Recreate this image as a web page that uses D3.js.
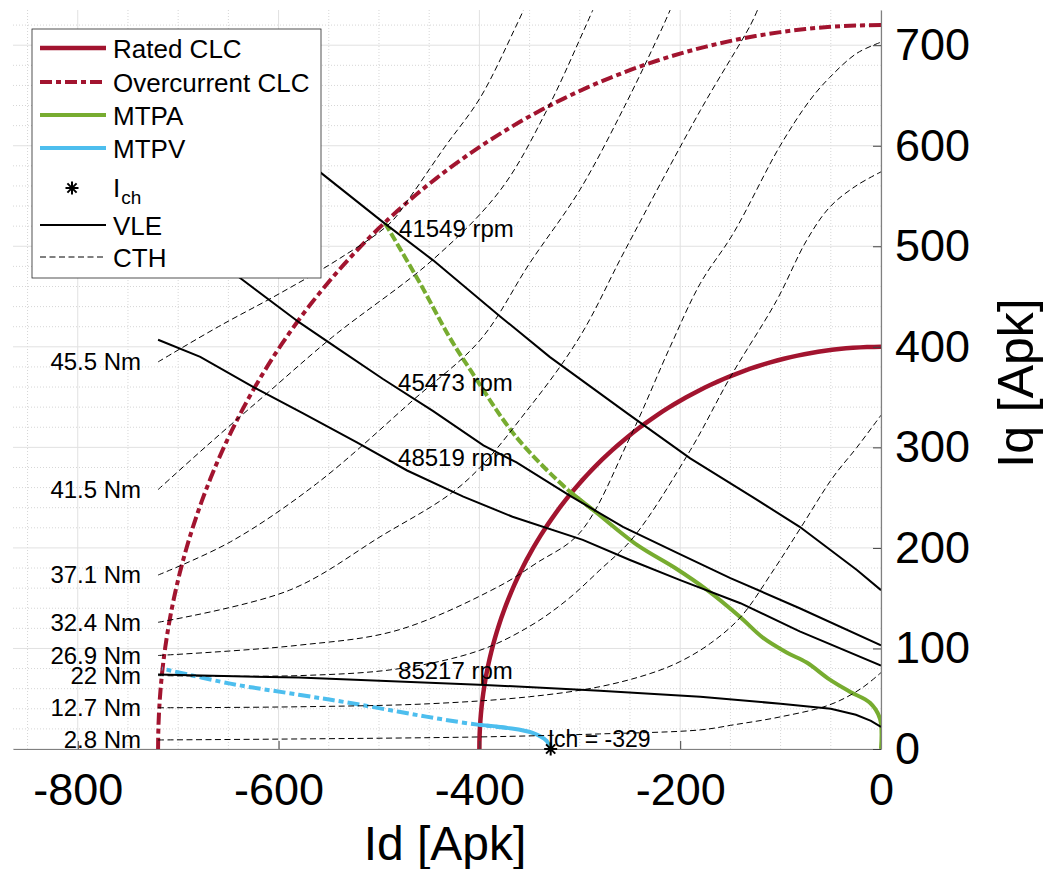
<!DOCTYPE html>
<html>
<head>
<meta charset="utf-8">
<script src="https://cdn.jsdelivr.net/npm/d3@7"></script>
<style>
body { margin: 0; background: #fff; }
text { font-family: "Liberation Sans", Arial, Helvetica, sans-serif; fill: #000; }
</style>
</head>
<body>
<svg id="chart" width="1044" height="869"></svg>
<script>
// current limit circles (radius, Apk)
var ratedRadius = 400;
var overRadius = 720;

// constant torque lines (Id, Iq)
var torqueLabels = ["45.5 Nm", "41.5 Nm", "37.1 Nm", "32.4 Nm", "26.9 Nm", "22 Nm", "12.7 Nm", "2.8 Nm"];
var cth455 = [[-720,385],[-660,420],[-599,453],[-539,488],[-489,523],[-469,549],[-435,598],[-399,648],[-363,720],[-356,735]];
var cth415 = [[-720,258],[-671,302],[-610,355],[-546,410],[-446,487],[-379,556],[-333,635],[-295,717],[-287,735]];
var cth371 = [[-720,173],[-648,206],[-562,264],[-466,347],[-399,407],[-350,483],[-300,556],[-255,640],[-218,717],[-210,735]];
var cth324 = [[-720,126],[-589,158],[-499,211],[-416,264],[-350,340],[-300,410],[-255,496],[-180,635],[-130,720],[-123,735]];
var cth269 = [[-720,93],[-582,103],[-482,118],[-382,161],[-343,185],[-300,215],[-250,310],[-210,400],[-180,463],[-147,513],[-101,599],[-71,645],[-51,668],[-24,692],[0,703]];
var cth22 = [[-720,73],[-579,73],[-479,80],[-400,98],[-350,122],[-313,148],[-280,178],[-247,210],[-190,297],[-150,370],[-104,446],[-74,506],[-51,539],[-25,560],[0,574]];
var cth127 = [[-720,41],[-580,42],[-450,45],[-350,52],[-280,62],[-230,75],[-200,87],[-170,105],[-140,131],[-107,178],[-80,220],[-48,270],[-24,300],[0,332]];
var cth28 = [[-720,9],[-580,10],[-400,12],[-280,15],[-180,19],[-147,24],[-100,32],[-51,44],[-20,60],[0,76]];

// voltage limit ellipses (Id, Iq)
var speedLabels = ["41549 rpm", "45473 rpm", "48519 rpm", "85217 rpm"];
var speedLabelAt = [[-480,518],[-481,364],[-481,290],[-481,78]];
var vle41549 = [[-720,701],[-640,638],[-559,574],[-496,524],[-446,486],[-379,430],[-330,390],[-253,334],[-190,289],[-127,250],[-81,221],[-24,178],[0,158]];
var vle45473 = [[-720,530],[-635,466],[-579,424],[-539,397],[-496,368],[-446,336],[-396,302],[-363,285],[-310,252],[-257,221],[-203,195],[-150,170],[-81,140],[0,103]];
var vle48519 = [[-720,407],[-678,390],[-625,360],[-576,334],[-522,305],[-472,277],[-416,251],[-367,231],[-297,208],[-250,188],[-200,168],[-140,145],[-81,117],[0,83]];
var vle85217 = [[-720,74],[-580,71],[-400,64],[-280,58],[-180,52],[-100,45],[-50,40],[-25,34],[-10,28],[0,22]];

// MTPA and MTPV trajectories
var mtpa = [[0,0],[-1,30],[-11,46],[-31,57],[-51,69],[-74,86],[-94,96],[-118,111],[-140,131],[-173,158],[-205,180],[-243,203],[-287,238],[-310,256],[-363,310],[-409,377],[-430,410],[-459,463],[-494,523]];
var mtpv = [[-329,0],[-333,8],[-347,16],[-372,21],[-400,24],[-440,30],[-480,37],[-530,46],[-580,54],[-648,65],[-716,80]];
var ich = [-329, 0];
var ichText = "Ich = -329";

var xTicks = [-800, -600, -400, -200, 0];
var yTicks = [0, 100, 200, 300, 400, 500, 600, 700];
var legendNames = ["Rated CLC", "Overcurrent CLC", "MTPA", "MTPV", "I", "VLE", "CTH"];

var red = '#A2142F', green = '#77AC30', blue = '#4DBEEE';

var svg = d3.select('#chart');
var pL = 13, pR = 881, pT = 10, pB = 749;

var x = d3.scaleLinear().domain([-864.5, 0]).range([pL, pR]);
var y = d3.scaleLinear().domain([0, 735]).range([pB, pT]);

// grid
var minorX = d3.range(-850, 1, 50).filter(function(d){ return d % 200 !== 0; });
var minorY = d3.range(20, 735, 20).filter(function(d){ return d % 100 !== 0; });

var grid = svg.append('g');
grid.selectAll('.mx').data(minorX).enter().append('line')
  .attr('x1', function(d){ return x(d); }).attr('x2', function(d){ return x(d); })
  .attr('y1', pT).attr('y2', pB)
  .attr('stroke', '#d6d6d6').attr('stroke-dasharray', '1,2');
grid.selectAll('.my').data(minorY).enter().append('line')
  .attr('y1', function(d){ return y(d); }).attr('y2', function(d){ return y(d); })
  .attr('x1', pL).attr('x2', pR)
  .attr('stroke', '#d6d6d6').attr('stroke-dasharray', '1,2');
grid.selectAll('.gx').data(xTicks).enter().append('line')
  .attr('x1', function(d){ return x(d); }).attr('x2', function(d){ return x(d); })
  .attr('y1', pT).attr('y2', pB)
  .attr('stroke', '#e1e1e1');
grid.selectAll('.gy').data(yTicks).enter().append('line')
  .attr('y1', function(d){ return y(d); }).attr('y2', function(d){ return y(d); })
  .attr('x1', pL).attr('x2', pR)
  .attr('stroke', '#e1e1e1');

svg.append('clipPath').attr('id', 'plotclip').append('rect')
  .attr('x', pL).attr('y', pT).attr('width', pR - pL).attr('height', pB - pT);

var plot = svg.append('g').attr('clip-path', 'url(#plotclip)');

var line = d3.line().x(function(d){ return x(d[0]); }).y(function(d){ return y(d[1]); });
var smooth = d3.line().x(function(d){ return x(d[0]); }).y(function(d){ return y(d[1]); })
  .curve(d3.curveCatmullRom.alpha(0.5));

function arcPoints(r){
  return d3.range(90, 180.5, 1).map(function(a){
    var t = a * Math.PI / 180;
    return [r * Math.cos(t), r * Math.sin(t)];
  });
}

// split a path at the rated circle: inside solid, outside dashed
function splitAt(pts, r){
  var inside = [], outside = [];
  pts.forEach(function(p, i){
    var rr = Math.sqrt(p[0]*p[0] + p[1]*p[1]);
    if(rr <= r){ inside.push(p); }
    else {
      if(outside.length === 0 && i > 0){ outside.push(pts[i-1]); inside.push(p); }
      outside.push(p);
    }
  });
  return [inside, outside];
}

var dashDot = '12,4,5,4';

plot.append('path').attr('d', line(arcPoints(ratedRadius)))
  .attr('fill', 'none').attr('stroke', red).attr('stroke-width', 4.5);
plot.append('path').attr('d', line(arcPoints(overRadius)))
  .attr('fill', 'none').attr('stroke', red).attr('stroke-width', 4)
  .attr('stroke-dasharray', dashDot);

var mtpaParts = splitAt(mtpa, ratedRadius);
plot.append('path').attr('d', smooth(mtpaParts[0]))
  .attr('fill', 'none').attr('stroke', green).attr('stroke-width', 4);
plot.append('path').attr('d', smooth(mtpaParts[1]))
  .attr('fill', 'none').attr('stroke', green).attr('stroke-width', 4)
  .attr('stroke-dasharray', '9,3');

var mtpvParts = splitAt(mtpv, ratedRadius);
plot.append('path').attr('d', smooth(mtpvParts[0]))
  .attr('fill', 'none').attr('stroke', blue).attr('stroke-width', 4);
plot.append('path').attr('d', smooth(mtpvParts[1]))
  .attr('fill', 'none').attr('stroke', blue).attr('stroke-width', 4)
  .attr('stroke-dasharray', dashDot);

// VLE
var vles = [vle41549, vle45473, vle48519, vle85217];
plot.selectAll('.vle').data(vles).enter().append('path')
  .attr('class', 'vle')
  .attr('d', function(d){ return line(d); })
  .attr('fill', 'none').attr('stroke', '#000').attr('stroke-width', 2);

// CTH
var cths = [cth455, cth415, cth371, cth324, cth269, cth22, cth127, cth28];
plot.selectAll('.cth').data(cths).enter().append('path')
  .attr('class', 'cth')
  .attr('d', function(d){ return smooth(d); })
  .attr('fill', 'none').attr('stroke', '#000').attr('stroke-width', 1)
  .attr('stroke-dasharray', '6,3.5');

// axes
var xAxis = d3.axisBottom(x).tickValues(xTicks).tickSize(-8).tickSizeOuter(0).tickPadding(24)
  .tickFormat(function(d){ return d === 0 ? '0' : String(d); });
var gx = svg.append('g').attr('transform', 'translate(0,' + pB + ')').call(xAxis);
var yAxis = d3.axisRight(y).tickValues(yTicks).tickSize(-8).tickSizeOuter(0).tickPadding(14);
var gy = svg.append('g').attr('transform', 'translate(' + pR + ',0)').call(yAxis);

[gx, gy].forEach(function(g){
  g.select('.domain').attr('stroke', '#808080').attr('stroke-width', 1.2);
  g.selectAll('.tick line').attr('stroke', '#404040');
  g.selectAll('.tick text').attr('font-size', 45).attr('fill', '#262626')
    .attr('font-family', '"Liberation Sans", Arial, sans-serif');
});

svg.append('text').attr('x', 445).attr('y', 860).attr('text-anchor', 'middle')
  .attr('font-size', 48).attr('fill', '#262626').text('Id [Apk]');
svg.append('text').attr('transform', 'translate(1033,383) rotate(-90)').attr('text-anchor', 'middle')
  .attr('font-size', 50).attr('fill', '#262626').text('Iq [Apk]');

// Ich marker
function asterisk(r){
  var d = r * Math.SQRT1_2;
  return 'M0,' + (-r) + 'V' + r + 'M' + (-r) + ',0H' + r +
    'M' + (-d) + ',' + (-d) + 'L' + d + ',' + d + 'M' + (-d) + ',' + d + 'L' + d + ',' + (-d);
}
svg.append('path').attr('d', asterisk(6.5))
  .attr('transform', 'translate(' + x(ich[0]) + ',' + y(ich[1]) + ')')
  .attr('stroke', '#000').attr('stroke-width', 2).attr('fill', 'none');

svg.append('text').attr('x', x(ich[0]) - 3).attr('y', y(ich[1]) - 2)
  .attr('font-size', 23).text(ichText);

// torque labels at the start of each CTH line
svg.selectAll('.tl').data(cths).enter().append('text')
  .attr('x', function(d){ return x(d[0][0]) - 17; })
  .attr('y', function(d){ return y(d[0][1]); })
  .attr('dy', '0.35em')
  .attr('text-anchor', 'end').attr('font-size', 24)
  .text(function(d, i){ return torqueLabels[i]; });

// speed labels
svg.selectAll('.sl').data(speedLabelAt).enter().append('text')
  .attr('x', function(d){ return x(d[0]); })
  .attr('y', function(d){ return y(d[1]); })
  .attr('dy', '0.35em').attr('font-size', 24)
  .text(function(d, i){ return speedLabels[i]; });

// legend
var lg = svg.append('g');
lg.append('rect').attr('x', 32).attr('y', 29).attr('width', 289).attr('height', 249)
  .attr('fill', '#fff').attr('stroke', '#262626').attr('stroke-width', 0.8);
var rowY = [48, 82, 115, 148, 188, 225, 257];
var legendStyle = [
  {stroke: red, w: 4.5, dash: null},
  {stroke: red, w: 4, dash: dashDot},
  {stroke: green, w: 4, dash: null},
  {stroke: blue, w: 4, dash: null},
  null,
  {stroke: '#000', w: 2, dash: null},
  {stroke: '#000', w: 1, dash: '6,3.5'}
];
legendNames.forEach(function(name, i){
  var s = legendStyle[i];
  if(s){
    lg.append('line').attr('x1', 40).attr('x2', 106).attr('y1', rowY[i]).attr('y2', rowY[i])
      .attr('stroke', s.stroke).attr('stroke-width', s.w)
      .attr('stroke-dasharray', s.dash);
    lg.append('text').attr('x', 113).attr('y', rowY[i] + 1).attr('dy', '0.35em')
      .attr('font-size', 26).text(name);
  } else {
    lg.append('path').attr('d', asterisk(6.5))
      .attr('transform', 'translate(72,' + rowY[i] + ')')
      .attr('stroke', '#000').attr('stroke-width', 2).attr('fill', 'none');
    var t = lg.append('text').attr('x', 113).attr('y', rowY[i] + 9).attr('font-size', 26);
    t.append('tspan').text(name);
    t.append('tspan').attr('font-size', 19).attr('dy', 7).attr('dx', 1).text('ch');
  }
});
</script>
</body>
</html>
